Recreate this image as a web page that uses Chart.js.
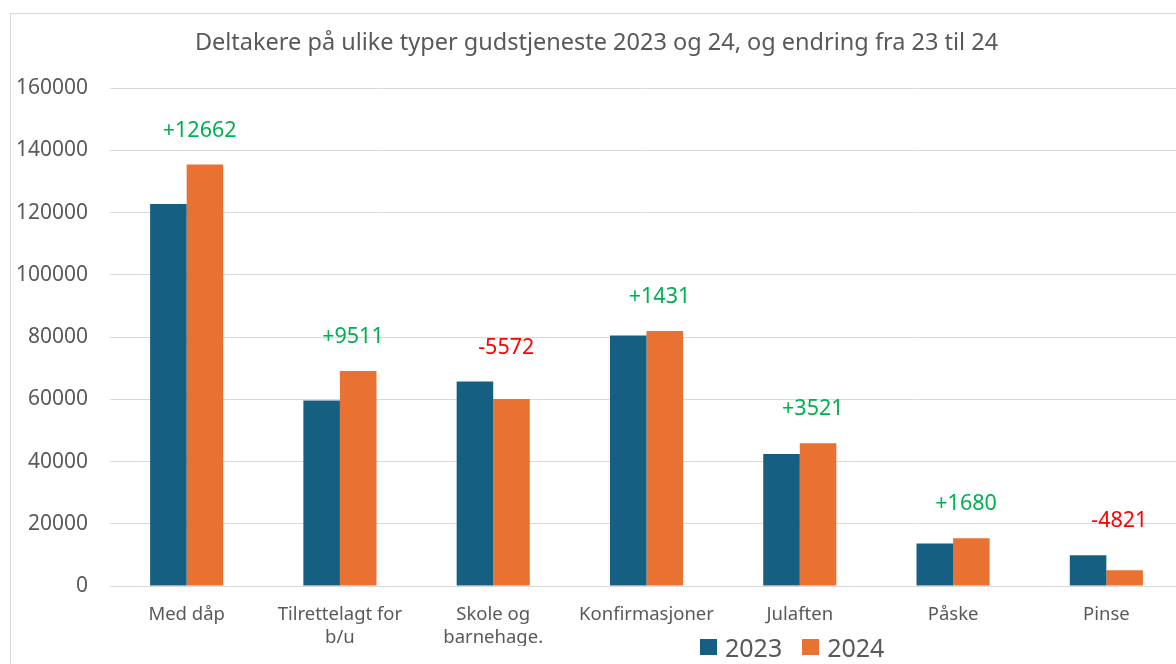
<!DOCTYPE html>
<html>
<head>
<meta charset="utf-8">
<script src="https://cdn.jsdelivr.net/npm/chart.js@4.4.1/dist/chart.umd.min.js"></script>
<style>
  html, body { margin:0; padding:0; background:#fff; overflow:hidden; }
  body { width:1176px; height:664px; position:relative; font-family:"Noto Sans", sans-serif; }
  #frame { position:absolute; left:10px; top:13px; width:1250px; height:700px; border:1px solid #d9d9d9; box-sizing:border-box; }
  #wrap  { position:absolute; left:0; top:0; width:1200px; height:664px; }
  #legend { position:absolute; top:630px; left:700px; display:flex; align-items:center; font-size:25px; color:#595959; }
  #legend span.box { display:inline-block; width:17px; height:16px; margin-right:8px; }
  #legend span.item { display:flex; align-items:center; margin-right:20px; }
</style>
</head>
<body>
<div id="frame"></div>
<div id="wrap"><canvas id="c"></canvas></div>
<div id="legend"></div>
<script>
// data
const categories = ["Med dåp", ["Tilrettelagt for", "b/u"], ["Skole og", "barnehage."], "Konfirmasjoner", "Julaften", "Påske", "Pinse"];
const values2023 = [122800, 59600, 65700, 80500, 42400, 13700, 9860];
const values2024 = [135462, 69111, 60128, 81931, 45921, 15380, 5039];
const changes    = ["+12662", "+9511", "-5572", "+1431", "+3521", "+1680", "-4821"];
const yTicks     = [0, 20000, 40000, 60000, 80000, 100000, 120000, 140000, 160000];

const BLUE = "#156082", ORANGE = "#E97132", GREY = "#595959";
const FONT = "'Noto Sans', sans-serif";

// legend (html)
const legend = document.getElementById("legend");
[["2023", BLUE], ["2024", ORANGE]].forEach(([l, c]) => {
  const it = document.createElement("span");
  it.className = "item";
  it.innerHTML = `<span class="box" style="background:${c}"></span>${l}`;
  legend.appendChild(it);
});

// change labels above each group
const changeLabels = {
  id: "changeLabels",
  afterDatasetsDraw(chart) {
    const { ctx } = chart;
    const a = chart.getDatasetMeta(0).data, b = chart.getDatasetMeta(1).data;
    ctx.save();
    ctx.font = `21.5px ${FONT}`;
    ctx.textAlign = "center";
    ctx.textBaseline = "middle";
    changes.forEach((t, i) => {
      const x = (a[i].x + b[i].x) / 2 + 13;
      const y = Math.min(a[i].y, b[i].y) - 34;
      ctx.fillStyle = t.startsWith("-") ? "#FF0000" : "#00B050";
      ctx.fillText(t, x, y);
    });
    ctx.restore();
  }
};

new Chart(document.getElementById("c"), {
  type: "bar",
  data: {
    labels: categories,
    datasets: [
      { label: "2023", data: values2023, backgroundColor: BLUE, borderWidth: 0 },
      { label: "2024", data: values2024, backgroundColor: ORANGE, borderWidth: 0 },
    ],
  },
  options: {
    responsive: true, maintainAspectRatio: false, animation: false,
    categoryPercentage: 0.477, barPercentage: 1,
    layout: { padding: { left: 10, right: 17, top: 0, bottom: 18 } },
    plugins: {
      legend: { display: false },
      tooltip: { enabled: false },
      title: {
        display: true,
        text: "Deltakere på ulike typer gudstjeneste 2023 og 24, og endring fra 23 til 24",
        color: GREY, font: { family: FONT, size: 23.5, weight: "normal" },
        padding: { top: 29, bottom: 31 },
      },
    },
    scales: {
      x: {
        grid: { display: false, drawTicks: false },
        border: { color: "#d9d9d9" },
        ticks: { color: GREY, font: { family: FONT, size: 18.5, lineHeight: 1.25 }, padding: 17, maxRotation: 0, autoSkip: false },
        afterFit: s => { s.height = 60; },
      },
      y: {
        min: 0, max: 160000,
        grid: { color: "#d9d9d9", drawTicks: false },
        border: { display: false },
        afterBuildTicks: s => { s.ticks = yTicks.map(v => ({ value: v })); },
        ticks: { color: GREY, font: { family: FONT, size: 21 }, padding: 22, callback: v => String(v) },
        afterFit: s => { s.width = 100; },
      },
    },
  },
  plugins: [changeLabels],
});
</script>
</body>
</html>
